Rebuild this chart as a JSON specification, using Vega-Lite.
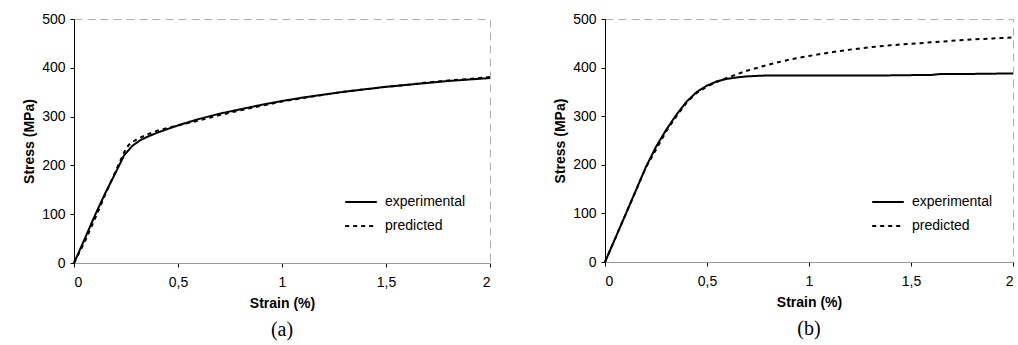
{
  "$schema": "https://vega.github.io/schema/vega-lite/v6.json",
  "padding": {"left": 22, "top": 11, "right": 0, "bottom": 0},
  "background": "white",
  "spacing": 58,
  "resolve": {"scale": {"strokeDash": "independent"}, "legend": {"strokeDash": "independent"}},
  "datasets": {
    "a": [
      {"strain": 0, "stress": 0, "series": "experimental"},
      {"strain": 0.05, "stress": 48, "series": "experimental"},
      {"strain": 0.1, "stress": 97, "series": "experimental"},
      {"strain": 0.15, "stress": 143, "series": "experimental"},
      {"strain": 0.2, "stress": 185, "series": "experimental"},
      {"strain": 0.24, "stress": 220, "series": "experimental"},
      {"strain": 0.28, "stress": 240, "series": "experimental"},
      {"strain": 0.32, "stress": 252, "series": "experimental"},
      {"strain": 0.36, "stress": 260, "series": "experimental"},
      {"strain": 0.4, "stress": 267, "series": "experimental"},
      {"strain": 0.5, "stress": 282, "series": "experimental"},
      {"strain": 0.6, "stress": 295, "series": "experimental"},
      {"strain": 0.7, "stress": 306, "series": "experimental"},
      {"strain": 0.8, "stress": 315, "series": "experimental"},
      {"strain": 0.9, "stress": 324, "series": "experimental"},
      {"strain": 1.0, "stress": 332, "series": "experimental"},
      {"strain": 1.1, "stress": 339, "series": "experimental"},
      {"strain": 1.2, "stress": 345, "series": "experimental"},
      {"strain": 1.3, "stress": 351, "series": "experimental"},
      {"strain": 1.4, "stress": 356, "series": "experimental"},
      {"strain": 1.5, "stress": 361, "series": "experimental"},
      {"strain": 1.6, "stress": 365, "series": "experimental"},
      {"strain": 1.7, "stress": 369, "series": "experimental"},
      {"strain": 1.8, "stress": 373, "series": "experimental"},
      {"strain": 1.9, "stress": 376, "series": "experimental"},
      {"strain": 2.0, "stress": 379, "series": "experimental"},
      {"strain": 0, "stress": 0, "series": "predicted"},
      {"strain": 0.05, "stress": 42, "series": "predicted"},
      {"strain": 0.1, "stress": 90, "series": "predicted"},
      {"strain": 0.15, "stress": 140, "series": "predicted"},
      {"strain": 0.2, "stress": 188, "series": "predicted"},
      {"strain": 0.25, "stress": 235, "series": "predicted"},
      {"strain": 0.27, "stress": 245, "series": "predicted"},
      {"strain": 0.3, "stress": 253, "series": "predicted"},
      {"strain": 0.35, "stress": 263, "series": "predicted"},
      {"strain": 0.4, "stress": 271, "series": "predicted"},
      {"strain": 0.5, "stress": 282, "series": "predicted"},
      {"strain": 0.6, "stress": 292, "series": "predicted"},
      {"strain": 0.7, "stress": 303, "series": "predicted"},
      {"strain": 0.8, "stress": 313, "series": "predicted"},
      {"strain": 0.9, "stress": 322, "series": "predicted"},
      {"strain": 1.0, "stress": 331, "series": "predicted"},
      {"strain": 1.1, "stress": 338, "series": "predicted"},
      {"strain": 1.2, "stress": 345, "series": "predicted"},
      {"strain": 1.3, "stress": 351, "series": "predicted"},
      {"strain": 1.4, "stress": 356, "series": "predicted"},
      {"strain": 1.5, "stress": 361, "series": "predicted"},
      {"strain": 1.6, "stress": 365, "series": "predicted"},
      {"strain": 1.7, "stress": 370, "series": "predicted"},
      {"strain": 1.8, "stress": 374, "series": "predicted"},
      {"strain": 1.9, "stress": 377, "series": "predicted"},
      {"strain": 2.0, "stress": 381, "series": "predicted"}
    ],
    "b": [
      {"strain": 0, "stress": 0, "series": "experimental"},
      {"strain": 0.1, "stress": 97, "series": "experimental"},
      {"strain": 0.2, "stress": 195, "series": "experimental"},
      {"strain": 0.25, "stress": 237, "series": "experimental"},
      {"strain": 0.3, "stress": 272, "series": "experimental"},
      {"strain": 0.35, "stress": 303, "series": "experimental"},
      {"strain": 0.4, "stress": 330, "series": "experimental"},
      {"strain": 0.45, "stress": 350, "series": "experimental"},
      {"strain": 0.5, "stress": 363, "series": "experimental"},
      {"strain": 0.55, "stress": 372, "series": "experimental"},
      {"strain": 0.6, "stress": 377, "series": "experimental"},
      {"strain": 0.65, "stress": 380, "series": "experimental"},
      {"strain": 0.7, "stress": 382, "series": "experimental"},
      {"strain": 0.8, "stress": 384, "series": "experimental"},
      {"strain": 1.0, "stress": 384, "series": "experimental"},
      {"strain": 1.2, "stress": 384, "series": "experimental"},
      {"strain": 1.4, "stress": 384, "series": "experimental"},
      {"strain": 1.6, "stress": 385, "series": "experimental"},
      {"strain": 1.65, "stress": 387, "series": "experimental"},
      {"strain": 1.8, "stress": 387, "series": "experimental"},
      {"strain": 2.0, "stress": 388, "series": "experimental"},
      {"strain": 0, "stress": 0, "series": "predicted"},
      {"strain": 0.1, "stress": 97, "series": "predicted"},
      {"strain": 0.2, "stress": 194, "series": "predicted"},
      {"strain": 0.3, "stress": 269, "series": "predicted"},
      {"strain": 0.35, "stress": 300, "series": "predicted"},
      {"strain": 0.4, "stress": 328, "series": "predicted"},
      {"strain": 0.45, "stress": 348, "series": "predicted"},
      {"strain": 0.5, "stress": 361, "series": "predicted"},
      {"strain": 0.55, "stress": 371, "series": "predicted"},
      {"strain": 0.6, "stress": 379, "series": "predicted"},
      {"strain": 0.65, "stress": 387, "series": "predicted"},
      {"strain": 0.7, "stress": 394, "series": "predicted"},
      {"strain": 0.8, "stress": 406, "series": "predicted"},
      {"strain": 0.9, "stress": 416, "series": "predicted"},
      {"strain": 1.0, "stress": 424, "series": "predicted"},
      {"strain": 1.1, "stress": 431, "series": "predicted"},
      {"strain": 1.2, "stress": 437, "series": "predicted"},
      {"strain": 1.3, "stress": 442, "series": "predicted"},
      {"strain": 1.4, "stress": 446, "series": "predicted"},
      {"strain": 1.5, "stress": 449, "series": "predicted"},
      {"strain": 1.6, "stress": 452, "series": "predicted"},
      {"strain": 1.7, "stress": 455, "series": "predicted"},
      {"strain": 1.8, "stress": 458, "series": "predicted"},
      {"strain": 1.9, "stress": 460, "series": "predicted"},
      {"strain": 2.0, "stress": 462, "series": "predicted"}
    ]
  },
  "config": {
    "font": "Liberation Sans",
    "view": {"stroke": "#b0b0b0", "strokeDash": [8, 5], "strokeWidth": 1},
    "axis": {
      "labelFont": "Liberation Sans", "labelFontSize": 14, "labelColor": "#000",
      "titleFont": "Liberation Sans", "titleFontSize": 14, "titleFontWeight": "bold", "titleColor": "#000",
      "grid": false, "tickColor": "#000", "domainColor": "#000", "tickSize": 4
    },
    "legend": {
      "labelFont": "Liberation Sans", "labelFontSize": 14, "labelColor": "#000",
      "symbolType": "stroke", "symbolSize": 1000, "symbolStrokeWidth": 2, "symbolStrokeColor": "#000",
      "labelOffset": 7, "rowPadding": 0
    }
  },
  "hconcat": [
    {
      "width": 416, "height": 244,
      "data": {"name": "a"},
      "title": {"text": "(a)", "orient": "bottom", "font": "Liberation Serif", "fontSize": 20, "fontWeight": "normal", "frame": "group", "anchor": "middle", "offset": 10, "color": "#000"},
      "mark": {"type": "line", "strokeWidth": 2, "color": "#000"},
      "encoding": {
        "x": {"field": "strain", "type": "quantitative", "scale": {"domain": [0, 2]},
          "axis": {"values": [0, 0.5, 1, 1.5, 2], "labelExpr": "replace(toString(datum.value), '.', ',')", "title": "Strain (%)", "domainColor": "#999", "labelPadding": 8, "titlePadding": 7}},
        "y": {"field": "stress", "type": "quantitative", "scale": {"domain": [0, 500]},
          "axis": {"values": [0, 100, 200, 300, 400, 500], "title": "Stress (MPa)", "labelPadding": 5, "titlePadding": 5}},
        "strokeDash": {"field": "series", "type": "nominal",
          "scale": {"domain": ["experimental", "predicted"], "range": [[1, 0], [4, 4]]},
          "legend": {"title": null, "orient": "none", "legendX": 270, "legendY": 166}}
      }
    },
    {
      "width": 408, "height": 243,
      "data": {"name": "b"},
      "title": {"text": "(b)", "orient": "bottom", "font": "Liberation Serif", "fontSize": 20, "fontWeight": "normal", "frame": "group", "anchor": "middle", "offset": 10, "color": "#000"},
      "mark": {"type": "line", "strokeWidth": 2, "color": "#000"},
      "encoding": {
        "x": {"field": "strain", "type": "quantitative", "scale": {"domain": [0, 2]},
          "axis": {"values": [0, 0.5, 1, 1.5, 2], "labelExpr": "replace(toString(datum.value), '.', ',')", "title": "Strain (%)", "domainColor": "#999", "labelPadding": 8, "titlePadding": 7}},
        "y": {"field": "stress", "type": "quantitative", "scale": {"domain": [0, 500]},
          "axis": {"values": [0, 100, 200, 300, 400, 500], "title": "Stress (MPa)", "labelPadding": 5, "titlePadding": 5}},
        "strokeDash": {"field": "series", "type": "nominal",
          "scale": {"domain": ["experimental", "predicted"], "range": [[1, 0], [4, 4]]},
          "legend": {"title": null, "orient": "none", "legendX": 266, "legendY": 166}}
      }
    }
  ]
}
